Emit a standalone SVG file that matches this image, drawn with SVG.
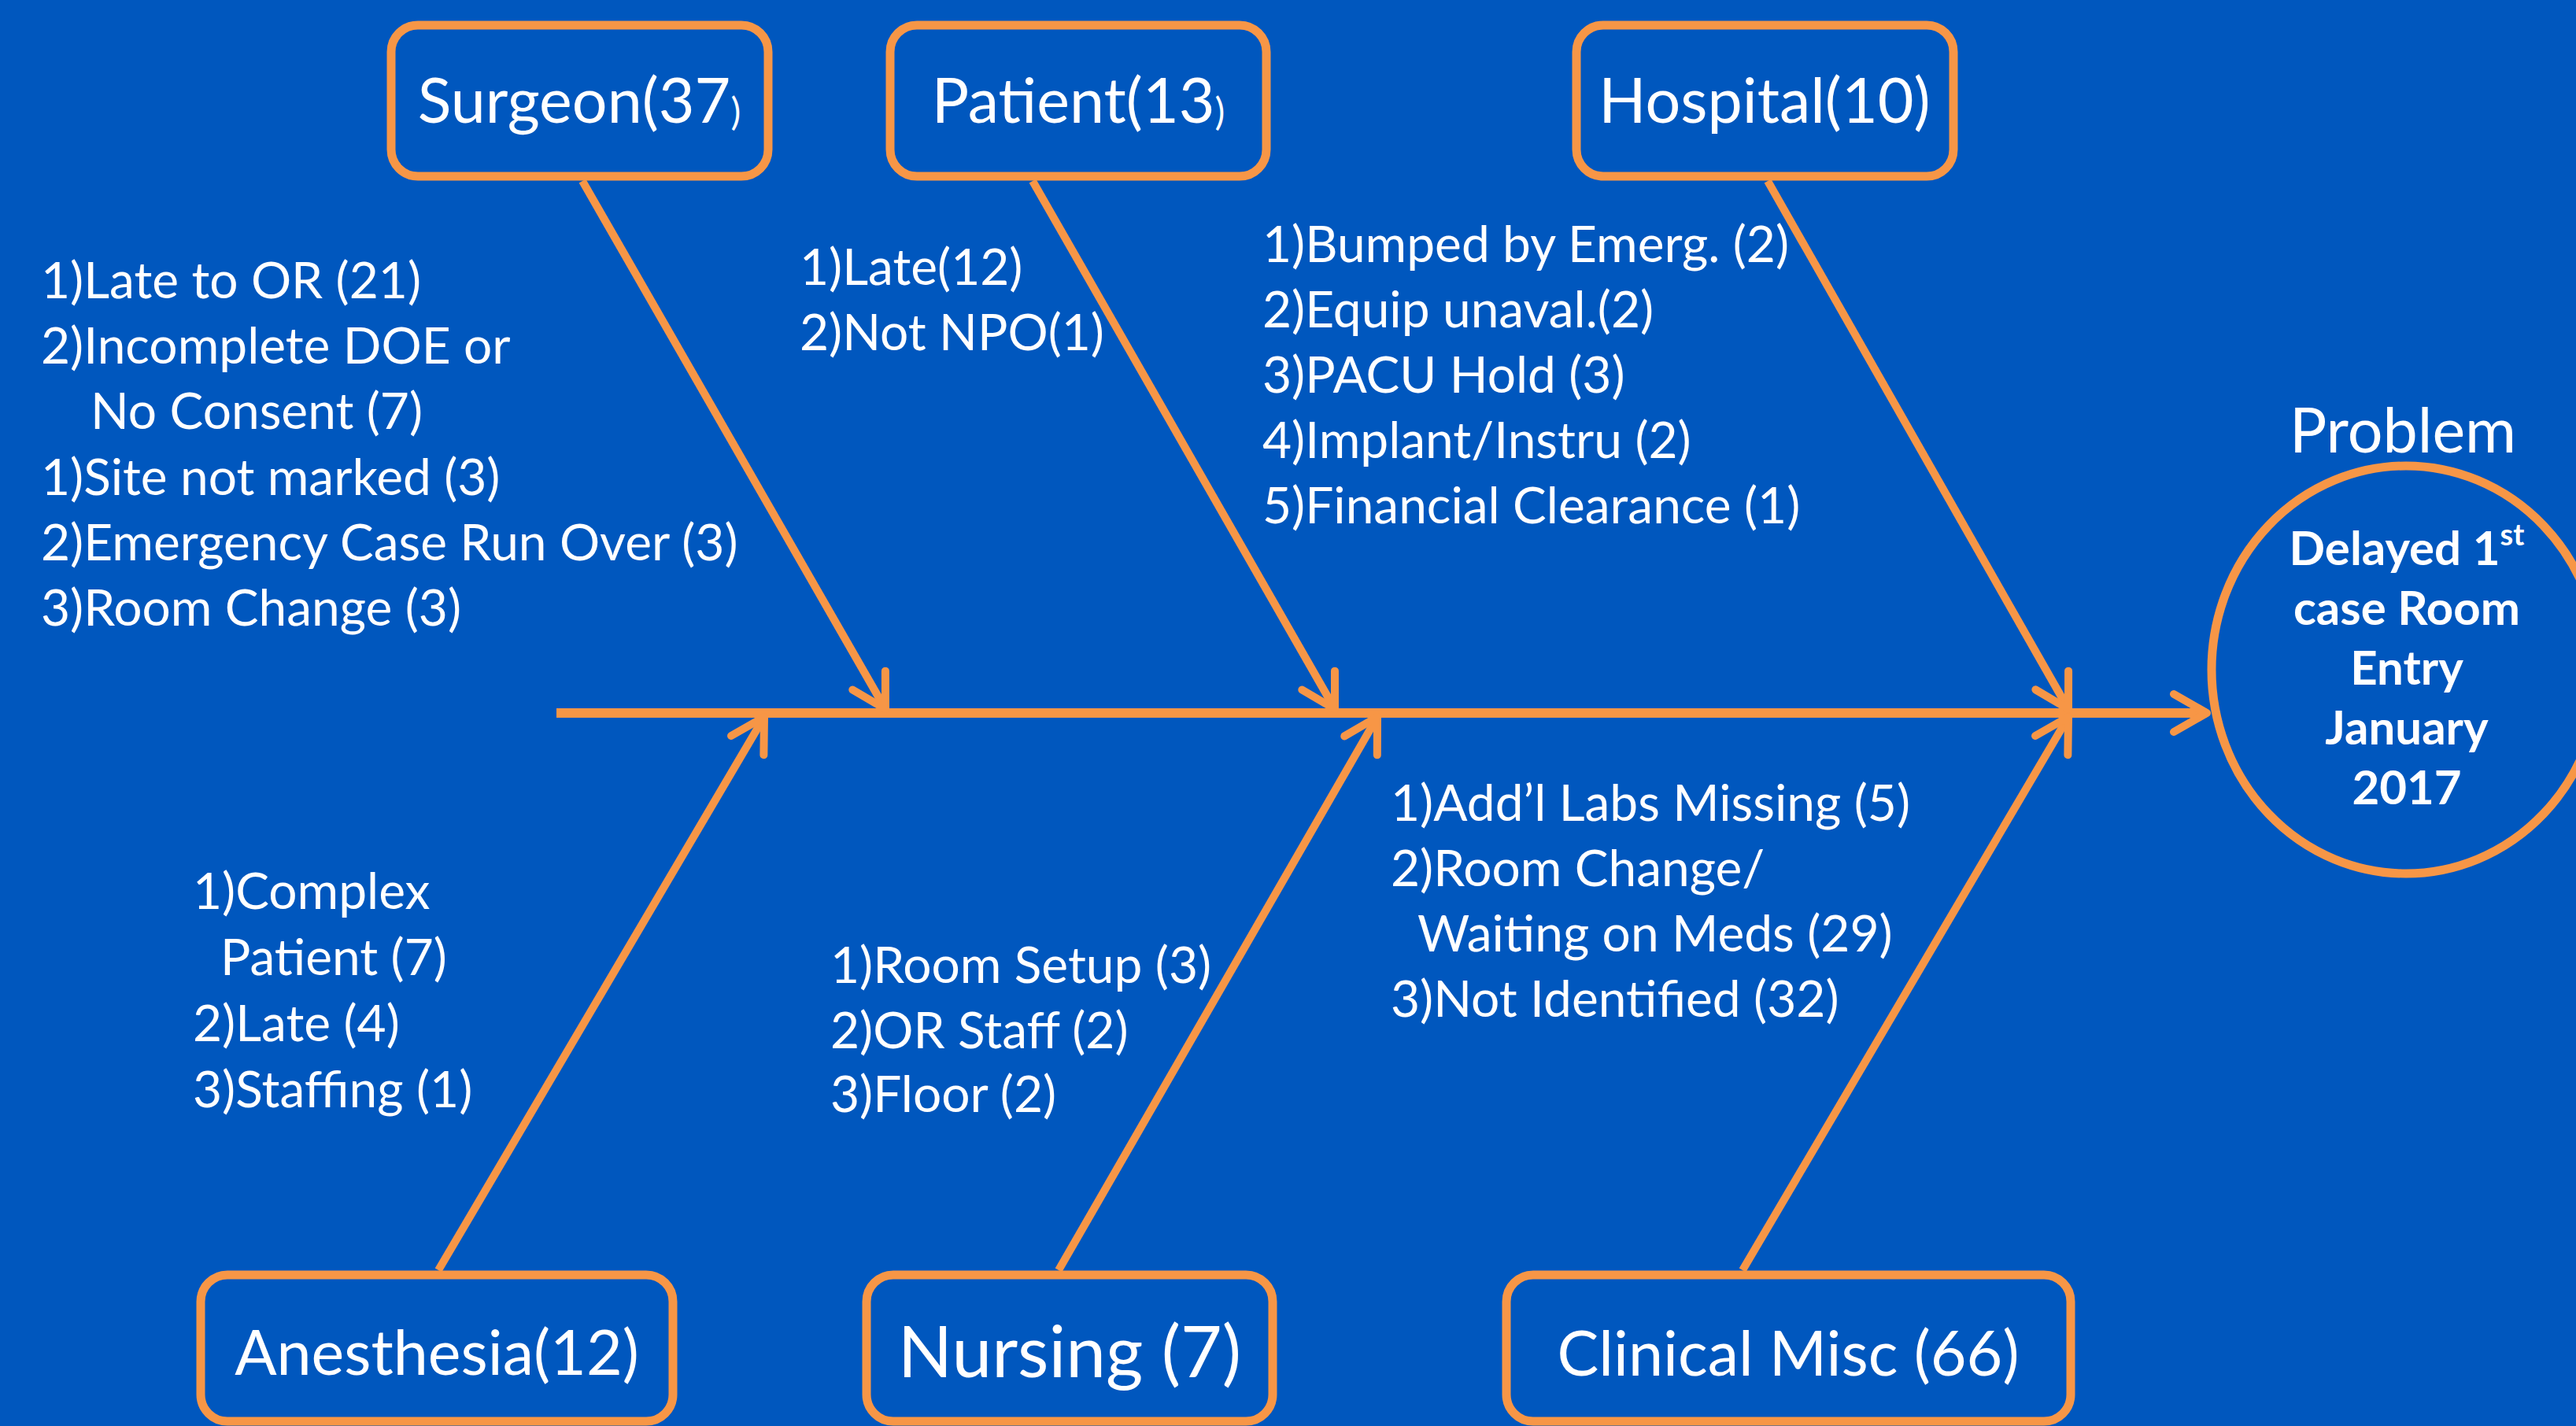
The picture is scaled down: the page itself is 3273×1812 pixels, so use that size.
<svg xmlns="http://www.w3.org/2000/svg" width="3273" height="1812" viewBox="0 0 3273 1812">
<defs>
<style>
.bg{fill:#0057BE}
.box{fill:none;stroke:#F79646;stroke-width:11}
.ln{fill:none;stroke:#F79646;stroke-width:10}
.spine{fill:none;stroke:#F79646;stroke-width:12}
.lbl{font-family:Lato,"Liberation Sans",sans-serif;font-size:79px;fill:#FFFFFF;text-anchor:middle}
.big{font-size:91px}
.lst{font-family:Lato,"Liberation Sans",sans-serif;font-size:64px;fill:#FFFFFF}
.prob{font-family:Lato,"Liberation Sans",sans-serif;font-size:60px;font-weight:bold;fill:#FFFFFF;text-anchor:middle}
</style>
<marker id="arr" markerUnits="userSpaceOnUse" viewBox="-50 -30 56 60" refX="0" refY="0" markerWidth="56" markerHeight="60" orient="auto">
<path d="M -42,-24 L 0,0 L -42,24" fill="none" stroke="#F79646" stroke-width="10" stroke-linecap="round" stroke-linejoin="round"/>
</marker>
</defs>
<rect class="bg" x="0" y="0" width="3273" height="1812"/>

<g id="connectors">
<line class="spine" x1="707" y1="906" x2="2804" y2="906" marker-end="url(#arr)"/>
<line class="ln" x1="740" y1="230" x2="1125" y2="901" marker-end="url(#arr)"/>
<line class="ln" x1="1312" y1="230" x2="1696" y2="901" marker-end="url(#arr)"/>
<line class="ln" x1="2246" y1="230" x2="2628" y2="901" marker-end="url(#arr)"/>
<line class="ln" x1="557" y1="1614" x2="971" y2="911" marker-end="url(#arr)"/>
<line class="ln" x1="1345" y1="1614" x2="1750" y2="911" marker-end="url(#arr)"/>
<line class="ln" x1="2214" y1="1614" x2="2628" y2="911" marker-end="url(#arr)"/>
</g>

<g id="surgeon">
<rect class="box" x="497" y="32" width="479" height="192" rx="34"/>
<text class="lbl" x="736" y="156">Surgeon(37<tspan font-size="48" dy="3">)</tspan></text>
<text class="lst" x="52" y="379">1)Late to OR (21)</text>
<text class="lst" x="52" y="462">2)Incomplete DOE or</text>
<text class="lst" x="115" y="545">No Consent (7)</text>
<text class="lst" x="52" y="629">1)Site not marked (3)</text>
<text class="lst" x="52" y="712">2)Emergency Case Run Over (3)</text>
<text class="lst" x="52" y="795">3)Room Change (3)</text>
</g>

<g id="patient">
<rect class="box" x="1131" y="32" width="478" height="192" rx="34"/>
<text class="lbl" x="1370" y="156">Patient(13<tspan font-size="48" dy="3">)</tspan></text>
<text class="lst" x="1016" y="362">1)Late(12)</text>
<text class="lst" x="1016" y="445">2)Not NPO(1)</text>
</g>

<g id="hospital">
<rect class="box" x="2003" y="32" width="479" height="192" rx="34"/>
<text class="lbl" x="2242" y="156">Hospital(10)</text>
<text class="lst" x="1604" y="333">1)Bumped by Emerg. (2)</text>
<text class="lst" x="1604" y="416">2)Equip unaval.(2)</text>
<text class="lst" x="1604" y="499">3)PACU Hold (3)</text>
<text class="lst" x="1604" y="582">4)Implant/Instru (2)</text>
<text class="lst" x="1604" y="665">5)Financial Clearance (1)</text>
</g>

<g id="anesthesia">
<rect class="box" x="255" y="1620" width="600" height="186" rx="34"/>
<text class="lbl" x="555" y="1747">Anesthesia(12)</text>
<text class="lst" x="245" y="1155">1)Complex</text>
<text class="lst" x="280" y="1239">Patient (7)</text>
<text class="lst" x="245" y="1323">2)Late (4)</text>
<text class="lst" x="245" y="1407">3)Staffing (1)</text>
</g>

<g id="nursing">
<rect class="box" x="1101" y="1620" width="516" height="186" rx="34"/>
<text class="lbl big" x="1359" y="1750">Nursing (7)</text>
<text class="lst" x="1055" y="1249">1)Room Setup (3)</text>
<text class="lst" x="1055" y="1332">2)OR Staff (2)</text>
<text class="lst" x="1055" y="1413">3)Floor (2)</text>
</g>

<g id="clinical-misc">
<rect class="box" x="1914" y="1620" width="717" height="186" rx="34"/>
<text class="lbl" x="2272" y="1748">Clinical Misc (66)</text>
<text class="lst" x="1767" y="1043">1)Add’l Labs Missing (5)</text>
<text class="lst" x="1767" y="1126">2)Room Change/</text>
<text class="lst" x="1801" y="1209">Waiting on Meds (29)</text>
<text class="lst" x="1767" y="1292">3)Not Identified (32)</text>
</g>

<g id="problem">
<text class="lbl" x="3053" y="575">Problem</text>
<ellipse class="box" cx="3057" cy="851" rx="247" ry="259"/>
<text class="prob" x="3058" y="718">Delayed 1<tspan font-size="38" dy="-25">st</tspan></text>
<text class="prob" x="3058" y="794">case Room</text>
<text class="prob" x="3058" y="870">Entry</text>
<text class="prob" x="3058" y="946">January</text>
<text class="prob" x="3058" y="1022">2017</text>
</g>
</svg>
